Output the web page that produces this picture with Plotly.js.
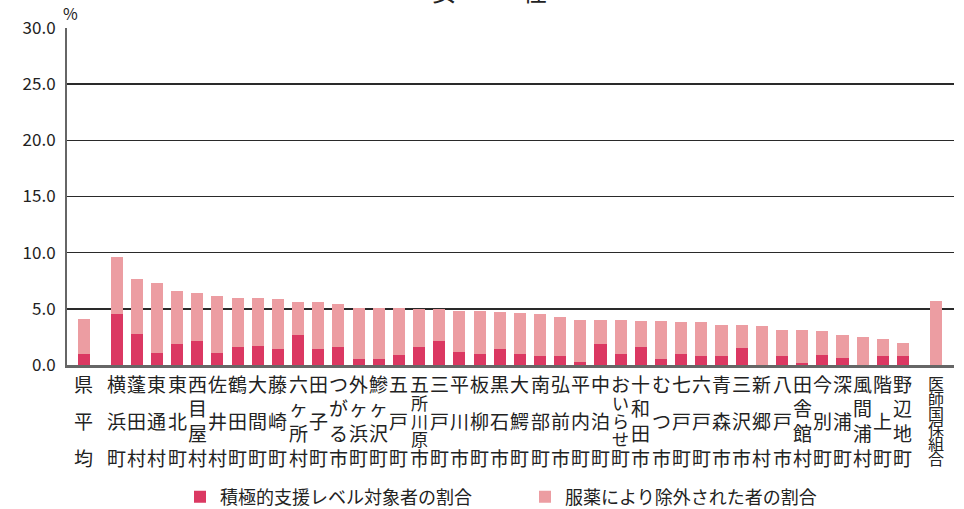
<!DOCTYPE html>
<html><head><meta charset="utf-8">
<script src="https://cdn.plot.ly/plotly-3.0.1.min.js"></script>
<style>html,body{margin:0;padding:0;background:#fff}#chart{width:964px;height:509px}</style>
</head><body><div id="chart"></div>
<script>
const categories = ['県平均','横浜町','蓬田村','東通村','東北町','西目屋村','佐井村','鶴田町','大間町','藤崎町','六ヶ所村','田子町','つがる市','外ヶ浜町','鰺ヶ沢町','五戸町','五所川原市','三戸町','平川市','板柳町','黒石市','大鰐町','南部町','弘前市','平内町','中泊町','おいらせ町','十和田市','むつ市','七戸町','六戸町','青森市','三沢市','新郷村','八戸市','田舎館村','今別町','深浦町','風間浦村','階上町','野辺地町','医師国保組合'];
const activeSupport = [1.0,4.5,2.8,1.1,1.9,2.1,1.1,1.6,1.7,1.4,2.7,1.4,1.6,0.5,0.5,0.9,1.6,2.1,1.2,1.0,1.4,1.0,0.8,0.8,0.3,1.9,1.0,1.6,0.5,1.0,0.8,0.8,1.5,0.0,0.8,0.2,0.9,0.6,0.0,0.8,0.8,0.0];
const medicated = [3.1,5.1,4.9,6.2,4.7,4.3,5.0,4.4,4.3,4.5,2.9,4.2,3.8,4.6,4.6,4.2,3.4,2.9,3.6,3.8,3.3,3.6,3.7,3.5,3.7,2.1,3.0,2.3,3.4,2.8,3.0,2.8,2.1,3.5,2.3,2.9,2.1,2.1,2.5,1.5,1.2,5.7];
const seriesNames = ['積極的支援レベル対象者の割合','服薬により除外された者の割合'];
const yTicks = [0,5,10,15,20,25,30];
const titleChars = ['女','性'];

const FONT = '"Noto Sans CJK JP", "Noto Sans", sans-serif';
const DARK = '#DB3862', LIGHT = '#EC9DA2';
const GAP = 1.62;
const n = categories.length;
const xs = categories.map((c,i)=> i===0 ? -GAP : (i===n-1 ? (n-3)+GAP : i-1));

const traces = [
  {type:'bar', x:xs, y:activeSupport, name:seriesNames[0], marker:{color:DARK}, width:0.6, hoverinfo:'skip'},
  {type:'bar', x:xs, y:medicated, name:seriesNames[1], marker:{color:LIGHT}, width:0.6, hoverinfo:'skip'}
];

const annotations = [];
function addText(x, txt, py, size){
  annotations.push({xref:'x', yref:'paper', x:x, y:0, yanchor:'middle', xanchor:'center', borderpad:0,
    yshift:-(py-365), text:txt, showarrow:false, font:{family:FONT, size:size, color:'#222'}});
}
categories.forEach((name,i)=>{
  const chars = Array.from(name);
  const x = xs[i];
  if (chars.length >= 6) {
    const top = 383, bot = 458, step = (bot-top)/(chars.length-1);
    chars.forEach((ch,k)=>addText(x, ch, top+k*step, 16));
    return;
  }
  addText(x, chars[0], 383, 19);
  addText(x, chars[chars.length-1], 457, 19);
  const mid = chars.slice(1,-1);
  if (mid.length === 1) addText(x, mid[0], 420, 19);
  else if (mid.length === 2) { addText(x, mid[0], 407, 19); addText(x, mid[1], 432, 19); }
  else if (mid.length === 3) { addText(x, mid[0], 402, 17); addText(x, mid[1], 420, 17); addText(x, mid[2], 438, 17); }
});
annotations.push({xref:'paper', yref:'paper', x:(70-67)/887, y:1+(28-13)/337, xanchor:'center', yanchor:'middle',
  text:'%', showarrow:false, font:{family:FONT, size:16, color:'#222'}});
[444, 535].forEach((px,k)=>annotations.push({xref:'paper', yref:'paper', x:(px-67)/887, y:1+(28-10)/337,
  xanchor:'center', yanchor:'bottom', text:titleChars[k], showarrow:false, font:{family:FONT, size:24, color:'#222'}}));

const layout = {
  width:964, height:509,
  margin:{l:67, r:10, t:28, b:144, pad:0, autoexpand:false},
  paper_bgcolor:'#fff', plot_bgcolor:'#fff',
  barmode:'stack',
  showlegend:true,
  legend:{orientation:'h', x:(180-67)/887, xanchor:'left', y:(365-497)/337, yanchor:'middle',
    font:{family:FONT, size:18, color:'#222'}, entrywidth:300, entrywidthmode:'pixels', traceorder:'normal', itemclick:false},
  xaxis:{range:[-2.46, 41.53], showticklabels:false, showgrid:false, zeroline:false,
    showline:true, linecolor:'#666', linewidth:3, ticks:'', fixedrange:true},
  yaxis:{range:[0,30], tickvals:yTicks, ticktext:yTicks.map(v=>v.toFixed(1)),
    showgrid:true, gridcolor:'#2a2a2a', gridwidth:1.5, zeroline:false,
    showline:true, linecolor:'#666', linewidth:2, ticks:'', ticklabelstandoff:6,
    tickfont:{family:FONT, size:17, color:'#222'}, fixedrange:true},
  annotations:annotations
};
Plotly.newPlot('chart', traces, layout, {staticPlot:true, displayModeBar:false});
</script></body></html>
